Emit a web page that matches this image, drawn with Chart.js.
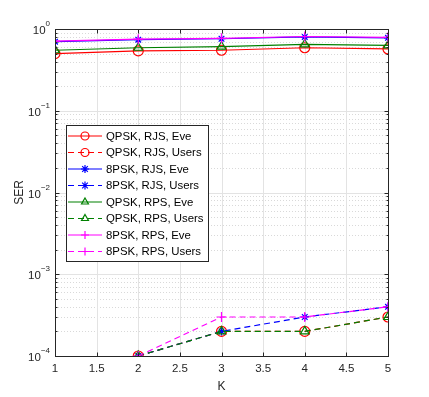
<!DOCTYPE html>
<html>
<head>
<meta charset="utf-8">
<script src="https://cdn.jsdelivr.net/npm/chart.js@4"></script>
<style>
  html, body { margin: 0; padding: 0; background: #fff; }
  #wrap { width: 429px; height: 397px; }
</style>
</head>
<body>
<div id="wrap"><canvas id="myChart" width="429" height="397"></canvas></div>
<script>
const kValues = [1, 2, 3, 4, 5]
const xTicks = [1, 1.5, 2, 2.5, 3, 3.5, 4, 4.5, 5]
const yDecades = [-4, -3, -2, -1, 0]

const qpskRjsEve = [0.50, 0.54, 0.55, 0.59, 0.57]
const qpskRjsUsers = [null, 1e-4, 2e-4, 2e-4, 3e-4]
const psk8RjsEve = [0.70, 0.74, 0.76, 0.80, 0.78]
const psk8RjsUsers = [null, 1e-4, 2e-4, 3e-4, 4e-4]
const qpskRpsEve = [0.55, 0.59, 0.61, 0.65, 0.63]
const qpskRpsUsers = [null, 1e-4, 2e-4, 2e-4, 3e-4]
const psk8RpsEve = [0.71, 0.75, 0.77, 0.81, 0.79]
const psk8RpsUsers = [null, 1e-4, 3e-4, 3e-4, 4e-4]

const labels = [
    'QPSK, RJS, Eve',
    'QPSK, RJS, Users',
    '8PSK, RJS, Eve',
    '8PSK, RJS, Users',
    'QPSK, RPS, Eve',
    'QPSK, RPS, Users',
    '8PSK, RPS, Eve',
    '8PSK, RPS, Users'
]
const series = [qpskRjsEve, qpskRjsUsers, psk8RjsEve, psk8RjsUsers,
                qpskRpsEve, qpskRpsUsers, psk8RpsEve, psk8RpsUsers]
const colors = ['#ff0000', '#ff0000', '#0000ff', '#0000ff', '#008000', '#008000', '#ff00ff', '#ff00ff']
const markers = ['circle', 'circle', 'star', 'star', 'triangle', 'triangle', 'cross', 'cross']

const FONT = '"Liberation Sans", Arial, sans-serif'

const datasets = series.map((vals, i) => ({
    label: labels[i],
    data: vals.map((v, j) => ({ x: kValues[j], y: v })),
    borderColor: colors[i],
    backgroundColor: 'rgba(0,0,0,0)',
    borderWidth: 1.2,
    borderDash: i % 2 ? [6, 4] : [],
    pointStyle: markers[i],
    pointRadius: markers[i] === 'star' ? 4 : 5,
    pointBorderWidth: 1.2,
    pointBorderColor: colors[i],
    pointBackgroundColor: 'rgba(0,0,0,0)',
    tension: 0,
    order: 10 - i
}))

// grid, box, tick marks, tick labels, titles and legend (MATLAB look)
const matlabAxes = {
    id: 'matlabAxes',
    beforeDatasetsDraw(chart) {
        const { ctx, chartArea: a, scales: { x, y } } = chart
        ctx.save()
        ctx.lineWidth = 1
        // minor y grid (dotted)
        ctx.strokeStyle = '#d9d9d9'
        ctx.setLineDash([1, 2])
        yDecades.slice(0, -1).forEach(d => {
            for (let m = 2; m <= 9; m++) {
                const py = Math.round(y.getPixelForValue(m * Math.pow(10, d))) + 0.5
                ctx.beginPath(); ctx.moveTo(a.left, py); ctx.lineTo(a.right, py); ctx.stroke()
            }
        })
        ctx.setLineDash([])
        ctx.strokeStyle = '#e3e3e3'
        yDecades.forEach(d => {
            const py = Math.round(y.getPixelForValue(Math.pow(10, d))) + 0.5
            ctx.beginPath(); ctx.moveTo(a.left, py); ctx.lineTo(a.right, py); ctx.stroke()
        })
        xTicks.forEach(t => {
            const px = Math.round(x.getPixelForValue(t)) + 0.5
            ctx.beginPath(); ctx.moveTo(px, a.top); ctx.lineTo(px, a.bottom); ctx.stroke()
        })
        ctx.restore()
    },
    afterDatasetsDraw(chart) {
        const { ctx, chartArea: a, scales: { x, y } } = chart
        ctx.save()
        ctx.strokeStyle = '#262626'
        ctx.lineWidth = 1
        const L = Math.round(a.left) + 0.5, R = Math.round(a.right) + 0.5
        const T = Math.round(a.top) + 0.5, B = Math.round(a.bottom) + 0.5
        ctx.strokeRect(L, T, R - L, B - T)
        // tick marks inward
        xTicks.forEach(t => {
            const px = Math.round(x.getPixelForValue(t)) + 0.5
            ctx.beginPath()
            ctx.moveTo(px, B); ctx.lineTo(px, B - 4)
            ctx.moveTo(px, T); ctx.lineTo(px, T + 4)
            ctx.stroke()
        })
        yDecades.forEach(d => {
            for (let m = 1; m <= (d === 0 ? 1 : 9); m++) {
                const py = Math.round(y.getPixelForValue(m * Math.pow(10, d))) + 0.5
                const len = m === 1 ? 4 : 2
                ctx.beginPath()
                ctx.moveTo(L, py); ctx.lineTo(L + len, py)
                ctx.moveTo(R, py); ctx.lineTo(R - len, py)
                ctx.stroke()
            }
        })
        // x tick labels
        ctx.fillStyle = '#262626'
        ctx.font = '11.5px ' + FONT
        ctx.textAlign = 'center'
        ctx.textBaseline = 'middle'
        xTicks.forEach(t => {
            ctx.fillText(String(t), x.getPixelForValue(t), a.bottom + 13)
        })
        // y tick labels 10^d
        yDecades.forEach(d => {
            const py = y.getPixelForValue(Math.pow(10, d))
            const ex = String(d).replace('-', '\u2212')
            ctx.font = '8px ' + FONT
            const ew = ctx.measureText(ex).width
            ctx.textAlign = 'right'
            ctx.textBaseline = 'middle'
            ctx.fillText(ex, a.left - 5, py - 5)
            ctx.font = '11.5px ' + FONT
            ctx.fillText('10', a.left - 5 - ew, py + 2)
        })
        // axis titles
        ctx.font = '12px ' + FONT
        ctx.textAlign = 'center'
        ctx.fillText('K', (a.left + a.right) / 2, a.bottom + 31)
        ctx.save()
        ctx.translate(20, (a.top + a.bottom) / 2)
        ctx.rotate(-Math.PI / 2)
        ctx.fillText('SER', 0, 0)
        ctx.restore()

        // legend box
        const bx = 66.5, by = 125.5, bw = 142, bh = 136
        ctx.fillStyle = '#ffffff'
        ctx.fillRect(bx, by, bw, bh)
        ctx.strokeStyle = '#262626'
        ctx.strokeRect(bx, by, bw, bh)
        chart.data.datasets.forEach((ds, i) => {
            const ly = 136 + i * 16.5
            ctx.strokeStyle = ds.borderColor
            ctx.lineWidth = ds.borderWidth
            ctx.setLineDash(ds.borderDash)
            ctx.beginPath(); ctx.moveTo(68, ly); ctx.lineTo(102, ly); ctx.stroke()
            ctx.setLineDash([])
            ctx.fillStyle = 'rgba(0,0,0,0)'
            Chart.helpers.drawPoint(ctx, {
                pointStyle: ds.pointStyle,
                radius: ds.pointStyle === 'star' ? 4 : ds.pointRadius - 1,
                borderWidth: ds.pointBorderWidth,
                rotation: 0
            }, 85, ly)
            ctx.fillStyle = '#000000'
            ctx.font = '11.4px ' + FONT
            ctx.textAlign = 'left'
            ctx.textBaseline = 'middle'
            ctx.fillText(ds.label, 106, ly + 0.5)
        })
        ctx.restore()
    }
}

const ctx = document.getElementById('myChart').getContext('2d')
const myChart = new Chart(ctx, {
    type: 'line',
    data: { datasets: datasets },
    options: {
        responsive: false,
        animation: false,
        events: [],
        layout: { padding: { left: 0, right: 41, top: 29, bottom: 0 } },
        plugins: {
            legend: { display: false },
            tooltip: { enabled: false }
        },
        scales: {
            x: {
                type: 'linear',
                min: 1,
                max: 5,
                ticks: { display: false },
                grid: { display: false },
                border: { display: false },
                afterFit: s => { s.height = 41 }
            },
            y: {
                type: 'logarithmic',
                min: 1e-4,
                max: 1,
                ticks: { display: false },
                grid: { display: false },
                border: { display: false },
                afterFit: s => { s.width = 55 }
            }
        }
    },
    plugins: [matlabAxes]
})
</script>
</body>
</html>
